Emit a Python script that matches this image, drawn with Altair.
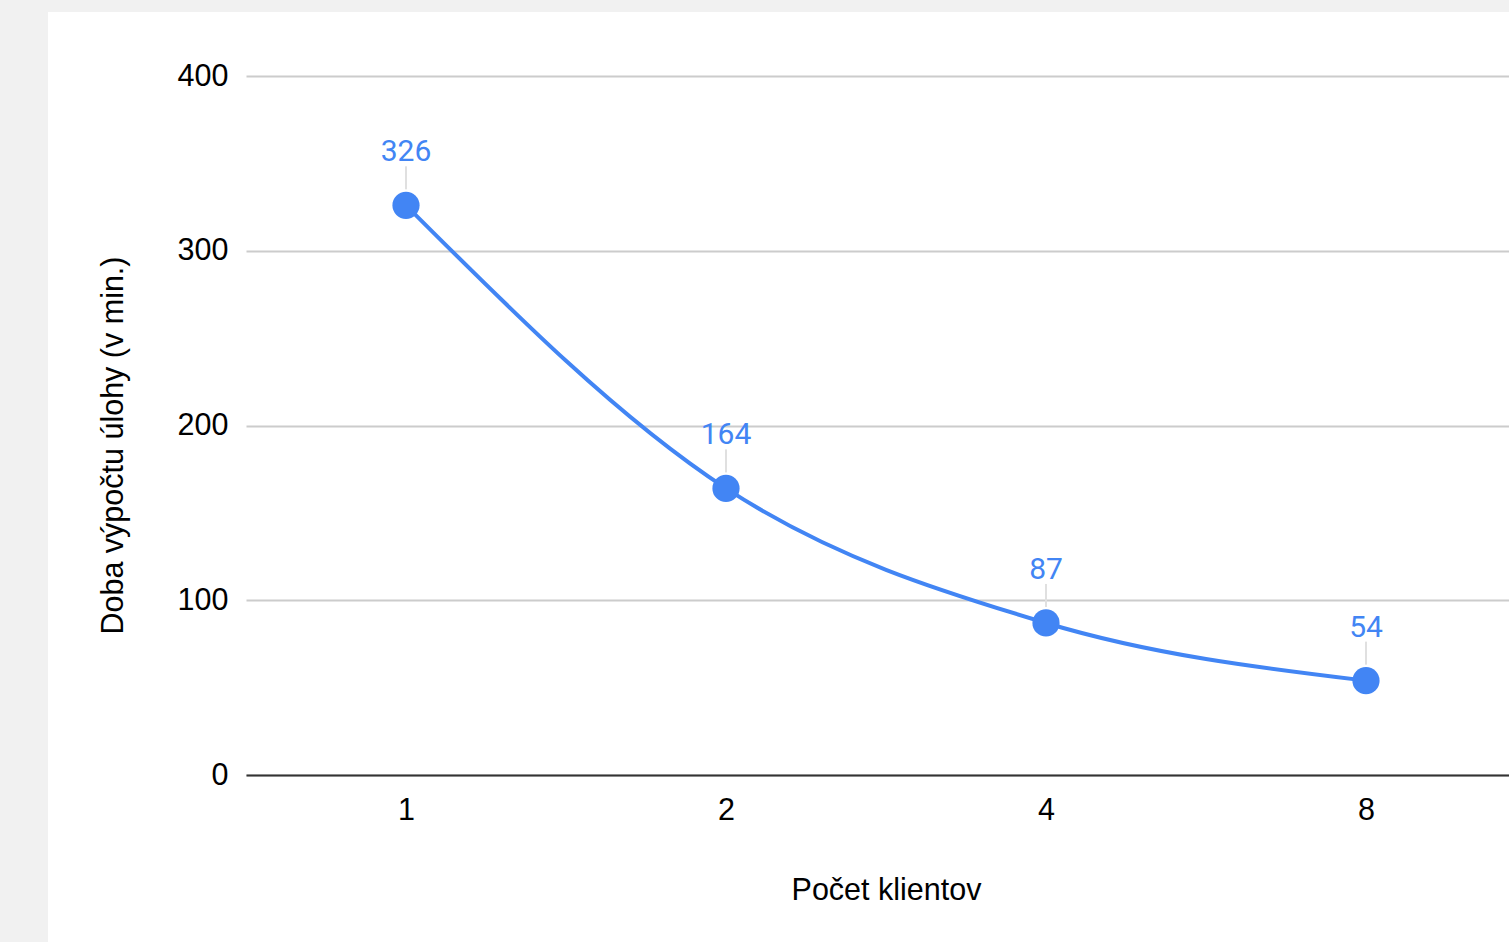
import altair as alt
import pandas as pd

clients = ["1", "2", "4", "8"]
minutes = [326, 164, 87, 54]
y_ticks = [0, 100, 200, 300, 400]

df = pd.DataFrame({"clients": clients, "minutes": minutes})

BLUE = "#4285F4"
W, H = 1263, 699
PAD_L, PAD_T, PAD_B = 246, 76, 167
AXIS_FONT = "Liberation Sans"
AXIS_SIZE = 30.5

x_enc = alt.X(
    "clients:O",
    sort=clients,
    scale=alt.Scale(type="point", padding=0.4734375, align=0.52805),
    axis=alt.Axis(
        title="Počet klientov", labelAngle=0, ticks=False, labelPadding=20,
        domainColor="#333333", domainWidth=2, grid=False,
        titleX=640, titleY=115, titleAlign="center", titleBaseline="middle",
    ),
)
y_enc = alt.Y(
    "minutes:Q",
    scale=alt.Scale(domain=[0, 400], nice=False),
    axis=alt.Axis(
        values=y_ticks, title="Doba výpočtu úlohy (v min.)", grid=True,
        gridColor="#cccccc", gridWidth=2, domain=False, ticks=False,
        labelPadding=18, titleAngle=-90, titleX=-133, titleY=369,
        titleAlign="center", titleBaseline="middle",
    ),
)

base = alt.Chart(df).encode(x=x_enc, y=y_enc)

blank = alt.Chart(alt.Data(values=[{}]))
left_strip = blank.mark_rect(color="#f1f1f1").encode(
    x=alt.value(-PAD_L), x2=alt.value(48 - PAD_L),
    y=alt.value(-PAD_T), y2=alt.value(H + PAD_B),
)
top_strip = blank.mark_rect(color="#f1f1f1").encode(
    x=alt.value(-PAD_L), x2=alt.value(W),
    y=alt.value(-PAD_T), y2=alt.value(12 - PAD_T),
)

line = base.mark_line(color=BLUE, strokeWidth=4, interpolate="monotone")
leader = base.mark_rule(color="#e0e0e0", strokeWidth=2, yOffset=-16, y2Offset=-39).encode(
    y2="minutes:Q"
)
points = base.mark_circle(size=740, color=BLUE, opacity=1)
labels = base.mark_text(
    dy=-53, color=BLUE, font="Roboto", fontSize=30, baseline="middle", align="center"
).encode(text="minutes:Q")

chart = (
    alt.layer(left_strip, top_strip, line, leader, points, labels)
    .properties(
        width=W, height=H,
        autosize=alt.AutoSizeParams(type="none"),
        padding={"left": PAD_L, "top": PAD_T, "right": 0, "bottom": PAD_B},
        background="white",
    )
    .configure_view(stroke=None)
    .configure_axis(
        labelFont=AXIS_FONT, labelFontSize=AXIS_SIZE, labelColor="#000000",
        titleFont=AXIS_FONT, titleFontSize=AXIS_SIZE, titleColor="#000000", titleFontWeight="normal",
    )
)

chart.save("out.html", embed_options={"renderer": "svg", "actions": False})
